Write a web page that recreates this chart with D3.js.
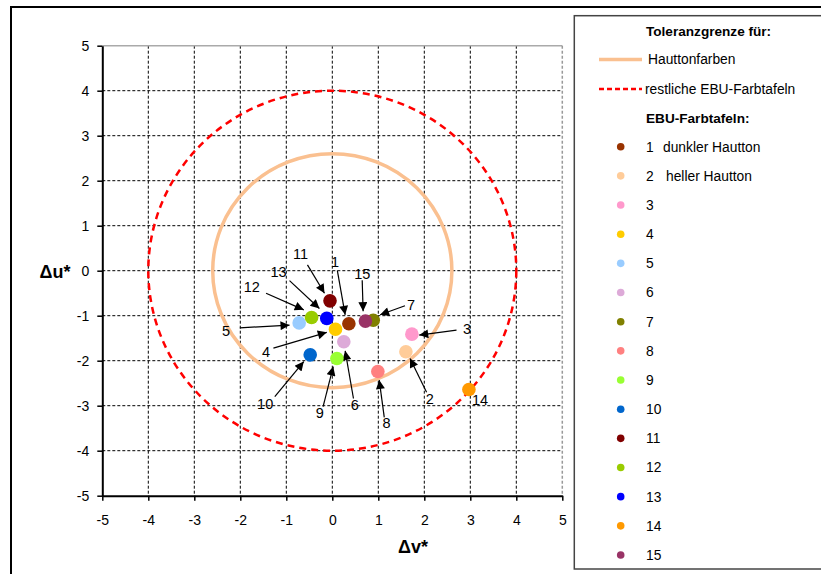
<!DOCTYPE html>
<html>
<head>
<meta charset="utf-8">
<script src="https://cdn.jsdelivr.net/npm/d3@7"></script>
<style>
  html, body { margin: 0; padding: 0; background: #fff; }
  svg { display: block; font-family: "Liberation Sans", Arial, sans-serif; }
</style>
</head>
<body>
<svg id="chart" width="821" height="574"></svg>
<script>
// EBU colour chart patches: deviation Δv* (x) and Δu* (y)
const patchIds = ["1","2","3","4","5","6","7","8","9","10","11","12","13","14","15"];
const patchNames = ["dunkler Hautton","heller Hautton","","","","","","","","","","","","",""];
const dvValues = [0.36, 1.60, 1.73, 0.07, -0.72, 0.25, 0.89, 0.99, 0.10, -0.48, -0.05, -0.45, -0.12, 2.97, 0.72];
const duValues = [-1.18, -1.80, -1.41, -1.30, -1.16, -1.58, -1.10, -2.24, -1.95, -1.87, -0.67, -1.04, -1.06, -2.64, -1.12];
const patchColors = ["#993300","#FFCC99","#FF99CC","#FFCC00","#99CCFF","#DDAAD8","#808000","#FF8080",
                     "#99FF33","#0066CC","#800000","#99CC00","#0000FF","#FF9900","#993366"];

// Tolerance limits (radius in ΔE units)
const toleranceRadii = [2.6, 4];
const toleranceNames = ["Hauttonfarben", "restliche EBU-Farbtafeln"];

const tickValues = [-5,-4,-3,-2,-1,0,1,2,3,4,5];

// Callout labels: text anchor, arrow tail and arrow head in data units
const callouts = [
  {id:"1",  text:[0.06, 0.19],  from:[0.11, 0.00],  to:[0.28, -0.98]},
  {id:"2",  text:[2.12, -2.84], from:[2.05, -2.70], to:[1.69, -1.95]},
  {id:"3",  text:[2.93, -1.30], from:[2.70, -1.32], to:[1.89, -1.43]},
  {id:"4",  text:[-1.44, -1.80],from:[-1.28, -1.72],to:[-0.12, -1.37]},
  {id:"5",  text:[-2.31, -1.34],from:[-2.01, -1.27],to:[-0.93, -1.21]},
  {id:"6",  text:[0.49, -2.98], from:[0.46, -2.84], to:[0.28, -1.78]},
  {id:"7",  text:[1.71, -0.76], from:[1.58, -0.78], to:[1.04, -0.98]},
  {id:"8",  text:[1.18, -3.39], from:[1.13, -3.26], to:[1.02, -2.43]},
  {id:"9",  text:[-0.27, -3.17],from:[-0.20, -3.02],to:[0.02, -2.13]},
  {id:"10", text:[-1.46, -2.95],from:[-1.25, -2.80],to:[-0.62, -2.02]},
  {id:"11", text:[-0.69, 0.37], from:[-0.54, 0.13], to:[-0.17, -0.50]},
  {id:"12", text:[-1.75, -0.36],from:[-1.44, -0.50],to:[-0.62, -0.87]},
  {id:"13", text:[-1.17, -0.02],from:[-0.93, -0.22],to:[-0.28, -0.84]},
  {id:"14", text:[3.21, -2.87], from:null, to:null},
  {id:"15", text:[0.65, -0.08], from:[0.65, -0.21], to:[0.67, -0.90]}
];

const svg = d3.select("#chart");

// Outer chart frame
svg.append("rect").attr("x", 11).attr("y", 7).attr("width", 830).attr("height", 600)
  .attr("fill", "none").attr("stroke", "#000").attr("stroke-width", 2);

const x = d3.scaleLinear().domain([-5, 5]).range([102.3, 562.3]);
const y = d3.scaleLinear().domain([-5, 5]).range([495.7, 45.7]);

// Arrow head marker
svg.append("defs").append("marker")
  .attr("id", "arrow").attr("viewBox", "0 0 10 10")
  .attr("refX", 10).attr("refY", 5)
  .attr("markerWidth", 11).attr("markerHeight", 9)
  .attr("markerUnits", "userSpaceOnUse")
  .attr("orient", "auto")
  .append("path").attr("d", "M0,0 L10,5 L0,10 Z").attr("fill", "#000");

// Grid
const grid = svg.append("g");
grid.selectAll("line.v").data(tickValues.filter(d => d > -5 && d < 5)).join("line")
  .attr("x1", d => x(d)).attr("x2", d => x(d)).attr("y1", y(5)).attr("y2", y(-5))
  .attr("stroke", "#000").attr("stroke-width", 1).attr("stroke-dasharray", "3,2");
grid.selectAll("line.h").data(tickValues.filter(d => d > -5 && d < 5)).join("line")
  .attr("y1", d => y(d)).attr("y2", d => y(d)).attr("x1", x(-5)).attr("x2", x(5))
  .attr("stroke", "#000").attr("stroke-width", 1).attr("stroke-dasharray", "3,2");
// plot area border (top and right)
grid.append("line").attr("x1", x(-5)).attr("x2", x(5)).attr("y1", y(5)).attr("y2", y(5))
  .attr("stroke", "#aaa").attr("stroke-width", 1.5);
grid.append("line").attr("x1", x(5)).attr("x2", x(5)).attr("y1", y(5)).attr("y2", y(-5))
  .attr("stroke", "#999").attr("stroke-width", 1.5).attr("stroke-dasharray", "3,2");

// Axes (plain hyphen for negative numbers)
const fmt = d => String(d);
const yAxis = svg.append("g").attr("transform", `translate(${x(-5)},0)`)
  .call(d3.axisLeft(y).tickValues(tickValues).tickFormat(fmt).tickSize(5).tickSizeOuter(0).tickPadding(8));
const xAxis = svg.append("g").attr("transform", `translate(0,${y(-5)})`)
  .call(d3.axisBottom(x).tickValues(tickValues).tickFormat(fmt).tickSize(5).tickSizeOuter(0).tickPadding(14));
[yAxis, xAxis].forEach(a => {
  a.select(".domain").attr("stroke", "#000").attr("stroke-width", 2);
  a.selectAll(".tick line").attr("stroke", "#000").attr("stroke-width", 1.5);
  a.selectAll(".tick text").attr("font-size", 14).attr("fill", "#000")
    .attr("font-family", "'Liberation Sans', Arial, sans-serif");
});

// Axis titles
svg.append("text").attr("x", 55).attr("y", 278).attr("text-anchor", "middle")
  .attr("font-size", 18).attr("font-weight", "bold").text("Δu*");
svg.append("text").attr("x", 413).attr("y", 553).attr("text-anchor", "middle")
  .attr("font-size", 18).attr("font-weight", "bold").text("Δv*");

// Tolerance circles
const toleranceStyles = [
  {stroke: "#FAC090", width: 3.5, dash: null},
  {stroke: "#FF0000", width: 2.5, dash: "7,5"}
];
svg.append("g").selectAll("ellipse").data(toleranceRadii).join("ellipse")
  .attr("cx", x(0)).attr("cy", y(0))
  .attr("rx", d => x(d) - x(0)).attr("ry", d => y(0) - y(d))
  .attr("fill", "none")
  .attr("stroke", (d, i) => toleranceStyles[i].stroke)
  .attr("stroke-width", (d, i) => toleranceStyles[i].width)
  .attr("stroke-dasharray", (d, i) => toleranceStyles[i].dash);

// Callout arrows
const ann = svg.append("g");
ann.selectAll("line").data(callouts.filter(c => c.from)).join("line")
  .attr("x1", c => x(c.from[0])).attr("y1", c => y(c.from[1]))
  .attr("x2", c => x(c.to[0])).attr("y2", c => y(c.to[1]))
  .attr("stroke", "#000").attr("stroke-width", 1.2).attr("marker-end", "url(#arrow)");

// Data points
const pts = patchIds.map((id, i) => ({id, dv: dvValues[i], du: duValues[i], color: patchColors[i]}));
svg.append("g").selectAll("circle").data(pts).join("circle")
  .attr("cx", d => x(d.dv)).attr("cy", d => y(d.du)).attr("r", 6.8)
  .attr("fill", d => d.color);

// Callout numbers
ann.selectAll("text").data(callouts).join("text")
  .attr("x", c => x(c.text[0])).attr("y", c => y(c.text[1]))
  .attr("dy", "0.35em").attr("text-anchor", "middle")
  .attr("font-size", 14.5).attr("fill", "#000").text(c => c.id);

// Legend
const lg = svg.append("g");
lg.append("rect").attr("x", 574.3).attr("y", 15.7).attr("width", 260).attr("height", 553.3)
  .attr("fill", "#fff").attr("stroke", "#444").attr("stroke-width", 1.5);
lg.append("text").attr("x", 646).attr("y", 35.5).attr("font-size", 13.6).attr("font-weight", "bold")
  .text("Toleranzgrenze für:");
toleranceNames.forEach((name, i) => {
  const yy = [59.5, 89][i];
  lg.append("line").attr("x1", 599).attr("x2", 642).attr("y1", yy).attr("y2", yy)
    .attr("stroke", toleranceStyles[i].stroke)
    .attr("stroke-width", toleranceStyles[i].width)
    .attr("stroke-dasharray", i === 1 ? "5,3" : null);
  lg.append("text").attr("x", i === 0 ? 648 : 645).attr("y", yy).attr("dy", "0.35em")
    .attr("font-size", 13.8).text(name);
});
lg.append("text").attr("x", 646).attr("y", 118.5).attr("dy", "0.35em").attr("font-size", 13.6)
  .attr("font-weight", "bold").text("EBU-Farbtafeln:");
const legY = d3.scaleLinear().domain([0, 14]).range([146.7, 555]);
const items = lg.selectAll("g.item").data(pts).join("g")
  .attr("transform", (d, i) => `translate(0,${legY(i)})`);
items.append("circle").attr("cx", 620.7).attr("cy", 0).attr("r", 3.8).attr("fill", d => d.color);
items.append("text").attr("x", 646).attr("dy", "0.35em").attr("font-size", 13.8).text(d => d.id);
items.append("text").attr("x", (d, i) => i === 0 ? 663 : 666).attr("dy", "0.35em").attr("font-size", 13.8)
  .text((d, i) => patchNames[i]);
</script>
</body>
</html>
